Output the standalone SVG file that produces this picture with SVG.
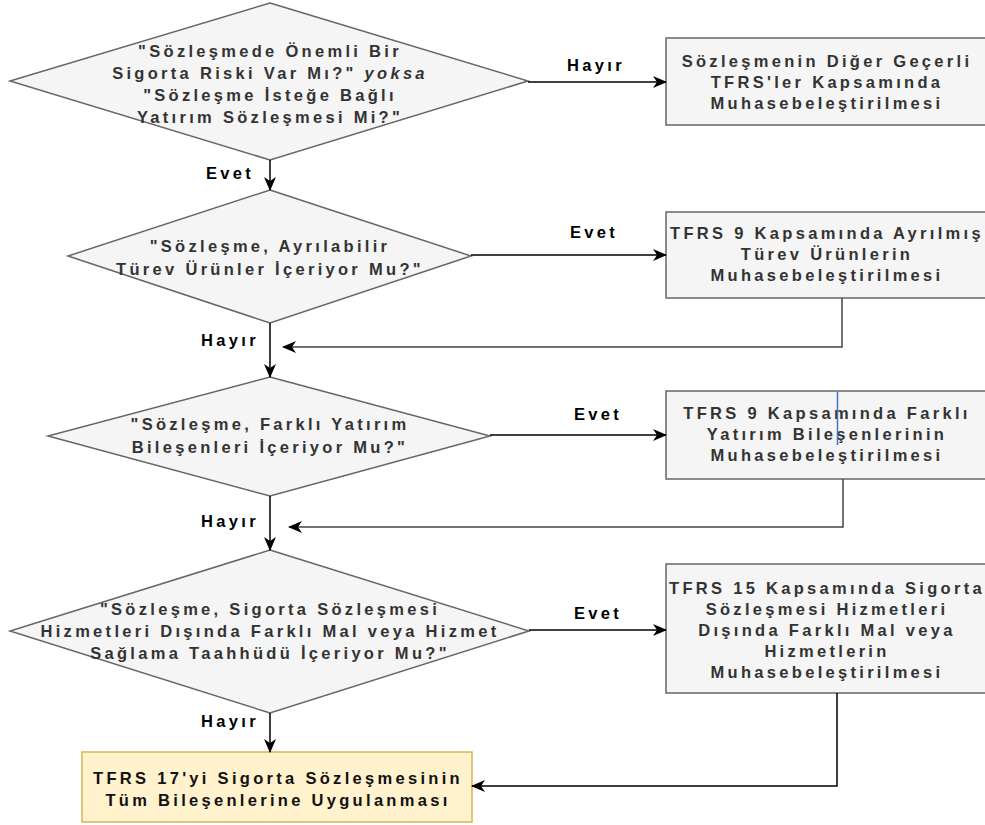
<svg xmlns="http://www.w3.org/2000/svg" width="985" height="825" viewBox="0 0 985 825">
<style>
.shape{fill:#f5f5f5;stroke:#666666;stroke-width:1.5}
.term{fill:#fff2cc;stroke:#d6b656;stroke-width:1.5}
.t{font-family:"Liberation Sans",Arial,sans-serif;font-size:16.5px;font-weight:bold;letter-spacing:3.3px;fill:#333333;text-anchor:middle}
.lbl{font-family:"Liberation Sans",Arial,sans-serif;font-size:16.5px;font-weight:bold;letter-spacing:3.3px;fill:#000000;text-anchor:middle}
.tb{fill:#111111}
.c{fill:none;stroke:#000000;stroke-width:1.5}
.fb{fill:none;stroke:#444444;stroke-width:1.5}
</style>
<defs>
<marker id="ah" markerWidth="14" markerHeight="12" refX="13" refY="6" orient="auto" markerUnits="userSpaceOnUse">
<path d="M0,0 L14,6 L0,12 L4,6 Z" fill="#000000"/>
</marker>
</defs>
<rect width="985" height="825" fill="#ffffff"/>

<g id="d1">
<polygon class="shape" points="270,3 528,81 270,160 10,81"/>
<text class="t" x="270" y="57">"Sözleşmede Önemli Bir</text>
<text class="t" x="270" y="79">Sigorta Riski Var Mı?" <tspan font-style="italic">yoksa</tspan></text>
<text class="t" x="270" y="101">"Sözleşme İsteğe Bağlı</text>
<text class="t" x="270" y="123">Yatırım Sözleşmesi Mi?"</text>
</g>

<g id="b1">
<rect class="shape" x="666" y="38" width="330" height="87"/>
<text class="t" x="827" y="67">Sözleşmenin Diğer Geçerli</text>
<text class="t" x="827" y="88">TFRS'ler Kapsamında</text>
<text class="t" x="827" y="109">Muhasebeleştirilmesi</text>
</g>

<g id="d2">
<polygon class="shape" points="270,190 471,256 270,323 68,256"/>
<text class="t" x="270" y="252">"Sözleşme, Ayrılabilir</text>
<text class="t" x="270" y="275">Türev Ürünler İçeriyor Mu?"</text>
</g>

<g id="b2">
<rect class="shape" x="666" y="212" width="330" height="86"/>
<text class="t" x="827" y="239">TFRS 9 Kapsamında Ayrılmış</text>
<text class="t" x="827" y="260">Türev Ürünlerin</text>
<text class="t" x="827" y="281">Muhasebeleştirilmesi</text>
</g>

<g id="d3">
<polygon class="shape" points="270,377 490,436 270,496 48,436"/>
<text class="t" x="270" y="430">"Sözleşme, Farklı Yatırım</text>
<text class="t" x="270" y="453">Bileşenleri İçeriyor Mu?"</text>
</g>

<g id="b3">
<rect class="shape" x="666" y="391" width="330" height="88"/>
<text class="t" x="827" y="419">TFRS 9 Kapsamında Farklı</text>
<text class="t" x="827" y="440">Yatırım Bileşenlerinin</text>
<text class="t" x="827" y="461">Muhasebeleştirilmesi</text>
<line x1="837.5" y1="392" x2="837.5" y2="445" stroke="#4472c4" stroke-width="1.5"/>
</g>

<g id="d4">
<polygon class="shape" points="270,550 529,631 270,713 10,631"/>
<text class="t" x="270" y="615">"Sözleşme, Sigorta Sözleşmesi</text>
<text class="t" x="270" y="637">Hizmetleri Dışında Farklı Mal veya Hizmet</text>
<text class="t" x="270" y="659">Sağlama Taahhüdü İçeriyor Mu?"</text>
</g>

<g id="b4">
<rect class="shape" x="666" y="564" width="330" height="129"/>
<text class="t" x="827" y="594">TFRS 15 Kapsamında Sigorta</text>
<text class="t" x="827" y="615">Sözleşmesi Hizmetleri</text>
<text class="t" x="827" y="636">Dışında Farklı Mal veya</text>
<text class="t" x="827" y="657">Hizmetlerin</text>
<text class="t" x="827" y="678">Muhasebeleştirilmesi</text>
</g>

<g id="b5">
<rect class="term" x="82" y="752" width="390" height="70"/>
<text class="t tb" x="278" y="784">TFRS 17'yi Sigorta Sözleşmesinin</text>
<text class="t tb" x="278" y="806">Tüm Bileşenlerine Uygulanması</text>
</g>

<g id="connectors">
<line class="c" x1="528" y1="82" x2="666" y2="82" marker-end="url(#ah)"/>
<text class="lbl" x="596" y="71">Hayır</text>
<line class="c" x1="270" y1="160" x2="270" y2="190" marker-end="url(#ah)"/>
<text class="lbl" x="230" y="179">Evet</text>
<line class="c" x1="471" y1="255" x2="666" y2="255" marker-end="url(#ah)"/>
<text class="lbl" x="594" y="238">Evet</text>
<line class="c" x1="270" y1="323" x2="270" y2="377" marker-end="url(#ah)"/>
<text class="lbl" x="230" y="346">Hayır</text>
<polyline class="fb" points="842,298 842,347 283,347" marker-end="url(#ah)"/>
<line class="c" x1="490" y1="435" x2="666" y2="435" marker-end="url(#ah)"/>
<text class="lbl" x="598" y="420">Evet</text>
<line class="c" x1="270" y1="496" x2="270" y2="550" marker-end="url(#ah)"/>
<text class="lbl" x="230" y="527">Hayır</text>
<polyline class="fb" points="843,479 843,527 289,527" marker-end="url(#ah)"/>
<line class="c" x1="529" y1="630" x2="666" y2="630" marker-end="url(#ah)"/>
<text class="lbl" x="598" y="619">Evet</text>
<line class="c" x1="270" y1="713" x2="270" y2="752" marker-end="url(#ah)"/>
<text class="lbl" x="230" y="727">Hayır</text>
<polyline class="c" points="837,693 837,786 472,786" marker-end="url(#ah)"/>
</g>
</svg>
